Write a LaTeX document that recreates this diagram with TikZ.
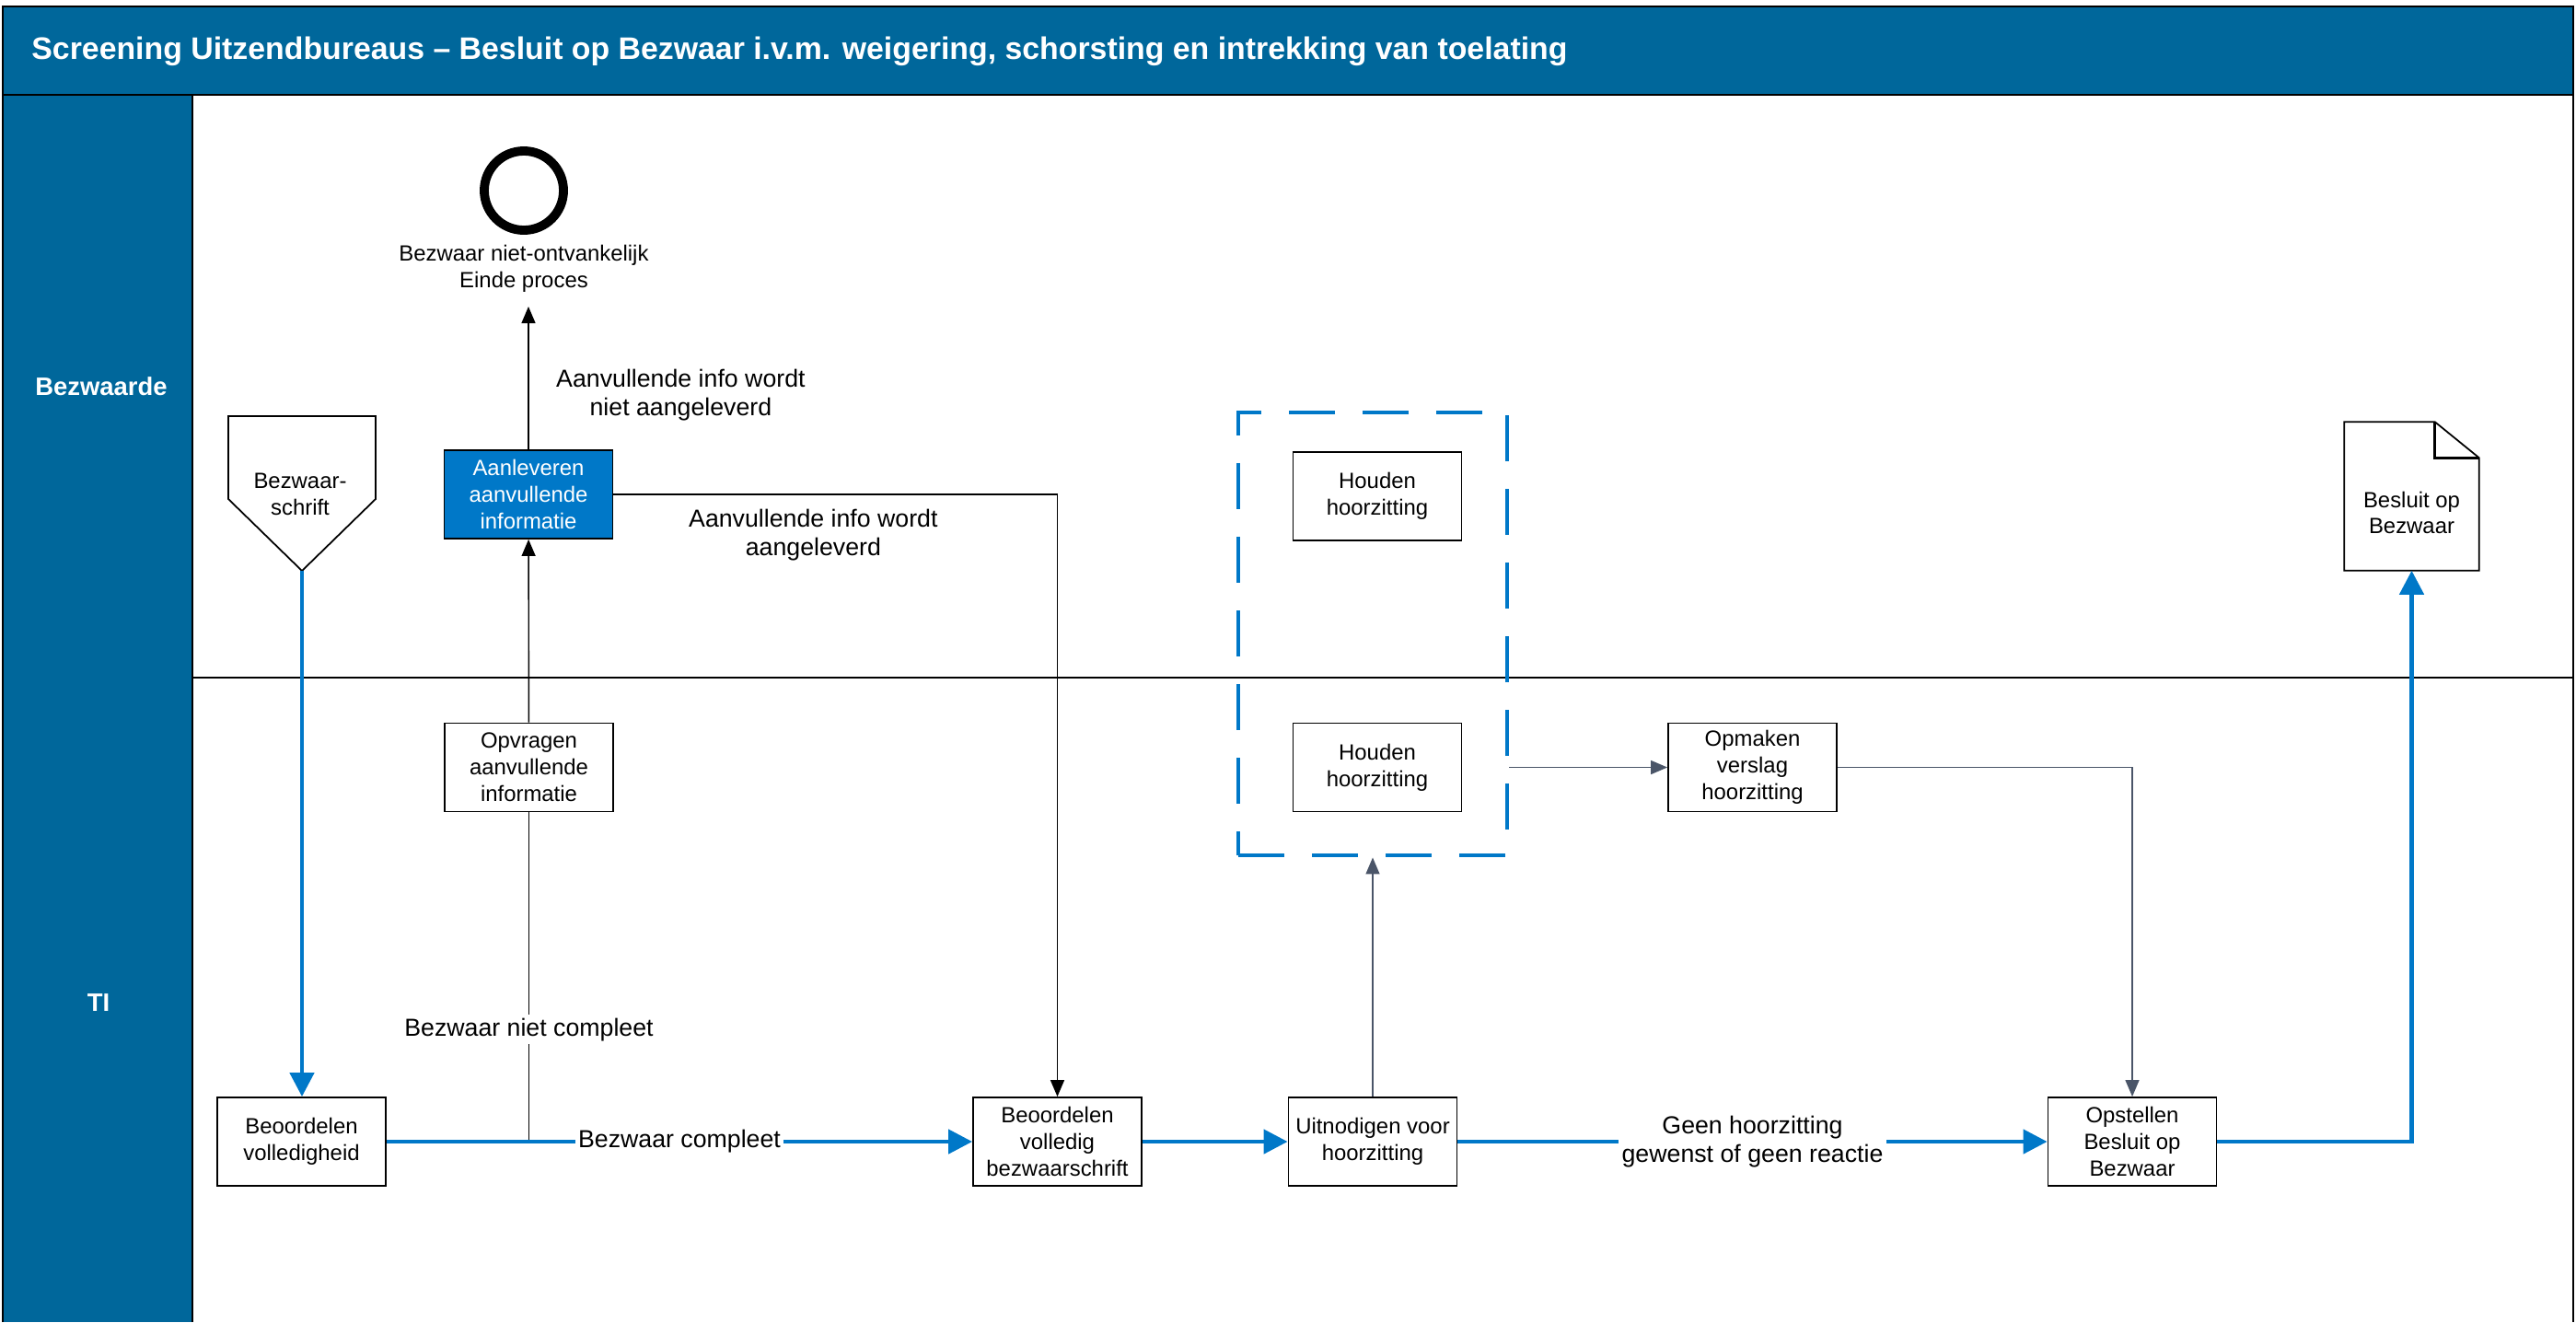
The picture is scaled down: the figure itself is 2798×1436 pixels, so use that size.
\documentclass[tikz,border=0pt]{standalone}
\usepackage{fontspec}
\setmainfont{Liberation Sans}
\usepackage{tikz}
\usetikzlibrary{arrows.meta}
\definecolor{laneblue}{RGB}{0,103,155}
\definecolor{flowblue}{RGB}{0,120,200}
\definecolor{slate}{RGB}{74,85,104}

\begin{document}
\begin{tikzpicture}[x=0.01cm, y=-0.01cm]
    % Define styles for tasks, labels and flows
    \tikzstyle{task text}=[align=center, font=\fontsize{6.8}{8.2}\selectfont, inner sep=1pt]
    \tikzstyle{task}=[task text, rectangle, draw, line width=0.5pt, minimum width=1.83cm, minimum height=0.96cm]
    \tikzstyle{user task}=[task, fill=flowblue, text=white]
    \tikzstyle{flow label}=[align=center, font=\fontsize{7.6}{8.8}\selectfont, inner sep=1pt]
    \tikzstyle{lane label}=[text=white, font=\bfseries\fontsize{7.8}{9}\selectfont]
    \tikzstyle{main flow}=[draw=flowblue, line width=1.3pt, -{Triangle[length=0.26cm, width=0.26cm]}]
    \tikzstyle{side flow}=[draw=black, line width=0.4pt, -{Triangle[length=0.18cm, width=0.15cm]}]
    \tikzstyle{slate flow}=[draw=slate, line width=0.4pt, -{Triangle[length=0.18cm, width=0.15cm]}]
    \useasboundingbox (0,0) rectangle (2798,1436);

    % Pool and lanes
    \fill[laneblue] (3,7) rectangle (2795,103);
    \fill[laneblue] (3,103) rectangle (209,1436);
    \draw[line width=0.8pt] (3,1436) -- (3,7) -- (2795,7) -- (2795,1436);
    \draw[line width=0.8pt] (3,103) -- (2795,103);
    \draw[line width=0.5pt] (209,103) -- (209,1436);
    \draw[line width=0.5pt] (209,736) -- (2795,736);
    \node[anchor=west, text=white, font=\bfseries\fontsize{9.62}{11}\selectfont] (title) at (22,56)
        {Screening Uitzendbureaus \textendash{} Besluit op Bezwaar i.v.m. weigering, schorsting en intrekking van toelating};
    \node[lane label] (L-bez) at (110,420) {Bezwaarde};
    \node[lane label] (L-ti) at (107,1089) {TI};

    % Bezwaarde lane
    \draw[line width=0.5pt] (248,452) -- (408,452) -- (408,542) -- (328,620) -- (248,542) -- cycle;
    \node[task text] (B-start) at (326,537) {Bezwaar-\\schrift};
    \coordinate (B-tip) at (328,620);
    \node[circle, draw, line width=2.8pt, minimum size=0.86cm, inner sep=0pt] (B-end) at (569,207) {};
    \node[task text] (B-end-lbl) at (569,292) {Bezwaar niet-ontvankelijk\\Einde proces};
    \coordinate (B-stop) at (574,333);
    \node[user task] (B-aanl) at (574,537) {Aanleveren\\aanvullende\\informatie};
    \node[task] (B-hoor) at (1496,539) {Houden\\hoorzitting};
    \node[minimum width=1.45cm, minimum height=1.6cm, inner sep=0pt] (B-besl) at (2619.5,539) {};
    \draw[line width=0.5pt] (B-besl.south west) -- (B-besl.north west) -- ([xshift=-0.48cm]B-besl.north east)
        -- ([yshift=-0.39cm]B-besl.north east) -- (B-besl.south east) -- cycle;
    \draw[line width=0.9pt] ([xshift=-0.48cm]B-besl.north east) |- ([yshift=-0.39cm]B-besl.north east);
    \node[task text] (B-besl-txt) at (2619.5,557) {Besluit op\\Bezwaar};

    % TI lane
    \node[task] (T-opv) at (574.5,833.5) {Opvragen\\aanvullende\\informatie};
    \node[task] (T-hoor) at (1496,833.5) {Houden\\hoorzitting};
    \node[task] (T-verslag) at (1903.5,833.5) {Opmaken\\verslag\\hoorzitting};
    \node[task] (T-vol) at (327.5,1240) {Beoordelen\\volledigheid};
    \node[task] (T-bez) at (1148.5,1240) {Beoordelen\\volledig\\bezwaarschrift};
    \node[task] (T-uit) at (1491,1240) {Uitnodigen voor\\hoorzitting};
    \node[task] (T-besl) at (2316,1240) {Opstellen\\Besluit op\\Bezwaar};

    % Hoorzitting group
    \node[draw=flowblue, line width=1.3pt, dash pattern=on 0.5cm off 0.3cm,
        minimum width=2.92cm, minimum height=4.81cm] (grp) at (1491,688.5) {};

    % Connections
    \draw[main flow] (B-tip) -- (B-tip |- T-vol.north);
    \draw[side flow] (B-aanl) -- (B-stop)
        node[flow label, pos=0.38, right=0.26cm] {Aanvullende info wordt\\niet aangeleverd};
    \draw[side flow] (B-aanl.east) -| (T-bez.north)
        node[flow label, pos=0.225, below=0.12cm] {Aanvullende info wordt\\aangeleverd};
    \draw[side flow] (T-opv) -- (B-aanl);
    \coordinate (T-split) at (T-opv.south |- T-vol.east);
    \draw[line width=0.4pt] (T-opv.south) -- (T-split)
        node[flow label, pos=0.66, fill=white] {Bezwaar niet compleet};
    \draw[main flow] (T-vol) -- (T-bez)
        node[flow label, midway, fill=white] {Bezwaar compleet};
    \draw[main flow] (T-bez) -- (T-uit);
    \draw[slate flow] (T-uit) -- (grp.south);
    \draw[slate flow] (T-hoor -| grp.east) -- (T-verslag);
    \draw[slate flow] (T-verslag.east) -| (T-besl.north);
    \draw[main flow] (T-uit) -- (T-besl)
        node[flow label, midway, fill=white] {Geen hoorzitting\\gewenst of geen reactie};
    \draw[main flow] (T-besl.east) -| (B-besl.south);

\end{tikzpicture}
\end{document}
